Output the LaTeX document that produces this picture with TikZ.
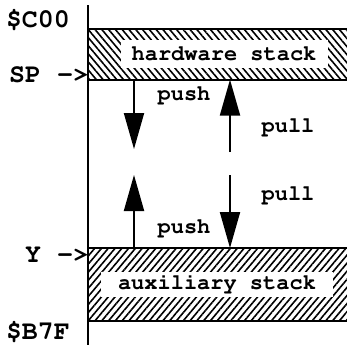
\documentclass[tikz,border=0pt]{standalone}
\usepackage[T1]{fontenc}
\usepackage{courier}
\usetikzlibrary{positioning, arrows.meta, patterns.meta}

\begin{document}
\begin{tikzpicture}[x=0.5pt, y=-0.5pt, line width=1pt,
  stack/.style={minimum width=129.5pt, inner sep=0pt, anchor=north west},
  tag/.style={fill=white, inner sep=0pt, font=\fontsize{11pt}{13pt}\ttfamily\bfseries},
  addr/.style={inner sep=0pt, font=\fontsize{13.3pt}{16pt}\ttfamily\bfseries},
  action/.style={inner sep=0pt, anchor=base, font=\fontsize{11pt}{13pt}\ttfamily\bfseries},
  flow/.style={-{Triangle[length=18pt, width=10pt]}}
]
\useasboundingbox (0,0) rectangle (347,345);
% memory axis
\coordinate (memtop) at (88,5);
\coordinate (membot) at (88,345);
\draw (memtop) -- (membot);

% the two stacks
\node[stack, minimum height=24.5pt, pattern={Lines[angle=-50, distance=2.6pt, line width=0.8pt]}] (hw) at (88,29) {};
\node[stack, minimum height=35.5pt, pattern={Lines[angle=50, distance=2.6pt, line width=0.8pt]}] (aux) at (88,248) {};
\draw (hw.north west) -- (hw.north east) (hw.south west) -- (hw.south east);
\draw (aux.north west) -- (aux.north east) (aux.south west) -- (aux.south east);
\node[tag, minimum width=103.5pt, minimum height=14pt] (hwname) at (224,54) {hardware stack};
\node[tag, minimum width=116pt, minimum height=12.5pt] (auxname) at (217,284) {auxiliary stack};

% addresses and pointers
\node[addr, anchor=base west] (top) at (5,27) {\$C00};
\node[addr, anchor=base east] (sp) at (90,82) {SP ->};
\node[addr, anchor=base east] (yreg) at (90,262) {Y ->};
\node[addr, anchor=base west] (bottom) at (5,339) {\$B7F};

% push and pull
\coordinate (pushhw) at (134,149);
\coordinate (pushaux) at (134,175);
\coordinate (pullhw) at (230,152);
\coordinate (pullaux) at (230,175);
\draw[flow] (hw.south -| pushhw) -- (pushhw);
\draw[flow] (aux.north -| pushaux) -- (pushaux);
\draw[flow] (pullhw) -- (pullhw |- hw.south);
\draw[flow] (pullaux) -- (pullaux |- aux.north);
\node[action] (pushhwl) at (184,100) {push};
\node[action] (pullhwl) at (288,132) {pull};
\node[action] (pullauxl) at (288,200) {pull};
\node[action] (pushauxl) at (184,233) {push};
\end{tikzpicture}
\end{document}
